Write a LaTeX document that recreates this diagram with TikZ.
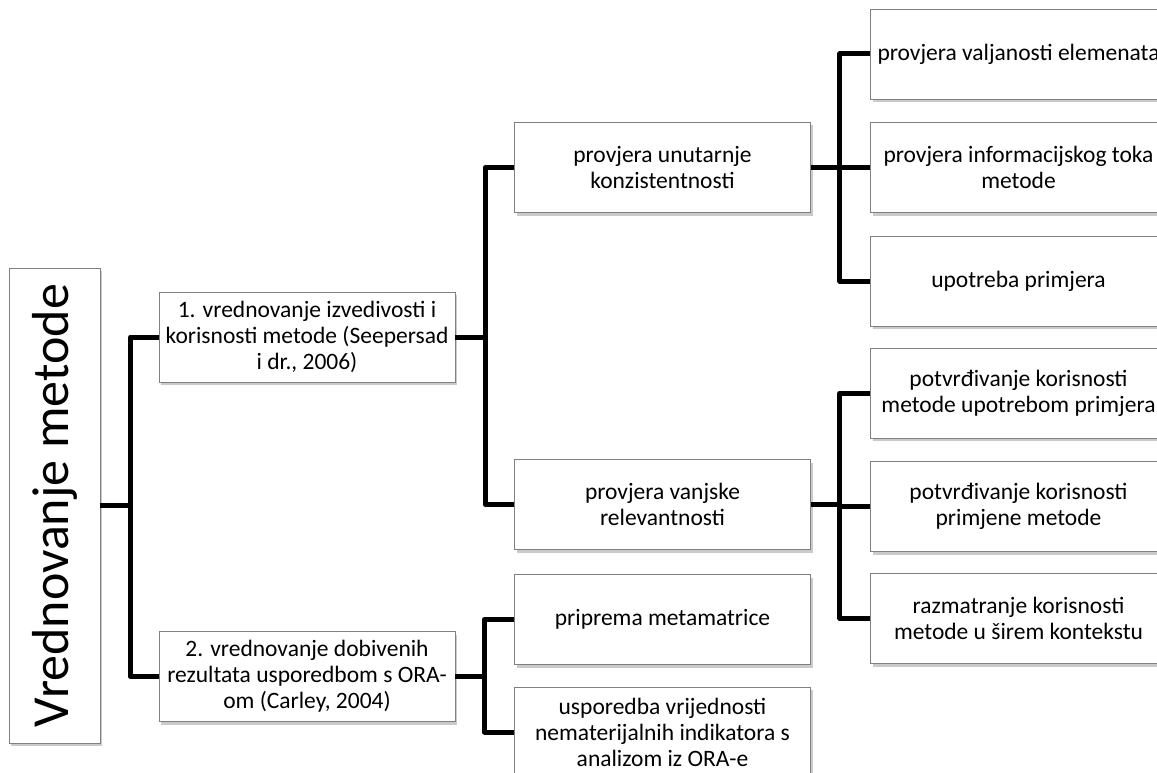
\documentclass[tikz,border=0pt]{standalone}
\usepackage{fontspec}
\setmainfont{Carlito}
\usetikzlibrary{shadows}
\definecolor{boxline}{RGB}{128,128,128}
\tikzset{
  box/.style={draw=boxline, line width=0.8pt, fill=white, minimum width=296pt, minimum height=90pt,
    inner sep=2pt, align=center, font=\fontsize{23.5}{26}\selectfont,
    drop shadow={shadow xshift=2pt, shadow yshift=-3pt, opacity=0.35, fill=black!60}},
  link/.style={line width=5pt, line join=round, black}
}
\begin{document}
\begin{tikzpicture}[x=1pt, y=-1pt]
\useasboundingbox (0,0) rectangle (1157,773);
\clip (0,0) rectangle (1157,773);
% root
\node[box, minimum width=91pt, minimum height=475pt] (root) at (54.5,505.5) {};
\node[rotate=90, font=\fontsize{52}{60}\selectfont] (roottext) at (root.center) {Vrednovanje metode};
% level 1
\node[box] (b1) at (307,337) {1. vrednovanje izvedivosti i\\korisnosti metode (Seepersad\\i dr., 2006)};
\node[box] (b2) at (307,676.5) {2. vrednovanje dobivenih\\rezultata usporedbom s ORA-\\om (Carley, 2004)};
% level 2
\node[box] (c1) at (662.5,167.5) {provjera unutarnje\\konzistentnosti};
\node[box] (c2) at (662.5,504.5) {provjera vanjske\\relevantnosti};
\node[box] (c3) at (662.5,619.5) {priprema metamatrice};
\node[box] (c4) at (662.5,732) {usporedba vrijednosti\\nematerijalnih indikatora s\\analizom iz ORA-e};
% level 3
\node[box] (d1) at (1018.5,54) {provjera valjanosti elemenata};
\node[box] (d2) at (1018.5,167.5) {provjera informacijskog toka\\metode};
\node[box] (d3) at (1018.5,281) {upotreba primjera};
\node[box] (d4) at (1018.5,393) {potvrđivanje korisnosti\\metode upotrebom primjera};
\node[box] (d5) at (1018.5,506.5) {potvrđivanje korisnosti\\primjene metode};
\node[box] (d6) at (1018.5,618.5) {razmatranje korisnosti\\metode u širem kontekstu};
% connectors
\draw[link] (root.east) -- ([xshift=30pt]root.east) |- (b1.west);
\draw[link] ([xshift=30pt]root.east) |- (b2.west);
\draw[link] (b1.east) -- ([xshift=30pt]b1.east) |- (c1.west);
\draw[link] ([xshift=30pt]b1.east) |- (c2.west);
\draw[link] (b2.east) -- ([xshift=29pt]b2.east) |- (c3.west);
\draw[link] ([xshift=29pt]b2.east) |- (c4.west);
\draw[link] (c1.east) -- ([xshift=29pt]c1.east) |- (d1.west);
\draw[link] ([xshift=29pt]c1.east) |- (d2.west);
\draw[link] ([xshift=29pt]c1.east) |- (d3.west);
\draw[link] (c2.east) -- ([xshift=29pt]c2.east) |- (d4.west);
\draw[link] ([xshift=29pt]c2.east) |- (d5.west);
\draw[link] ([xshift=29pt]c2.east) |- (d6.west);
\end{tikzpicture}
\end{document}
